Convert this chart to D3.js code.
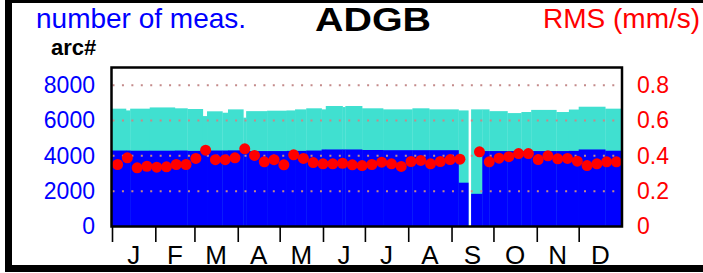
<!DOCTYPE html>
<html>
<head>
<meta charset="utf-8">
<script src="https://cdn.jsdelivr.net/npm/d3@7"></script>
<style>
  body { margin: 0; background: #fff; }
  svg { display: block; font-family: "Liberation Sans", Arial, Helvetica, sans-serif; }
</style>
</head>
<body>
<script>
// month labels and the day of year each month starts on
var months = ["J", "F", "M", "A", "M", "J", "J", "A", "S", "O", "N", "D"];
var monthStart = [0, 31, 59, 90, 120, 151, 181, 212, 243, 273, 304, 334, 365];

// bars come in runs of days: length of run, number of measurements, arc# (null = no data)
var runDays  = [10, 3, 14, 18, 9, 11, 3, 11, 4, 11, 2, 15, 14, 6, 8, 11, 3, 12, 2, 12,
                15, 21, 12, 21, 7, 2, 8, 5, 13, 10, 7, 18, 9, 7, 19, 12];
var measures = [6670, 6570, 6670, 6740, 6690, 6650, 6250, 6520, 6440, 6630, 6160, 6530, 6555, 6570, 6630, 6690, 6630, 6820, 6760, 6820,
                6690, 6630, 6690, 6630, 6570, null, 6630, 6630, 6530, 6420, 6480, 6600, 6480, 6620, 6780, 6670];
var arcs     = [4300, 4300, 4290, 4290, 4300, 4280, 4280, 4300, 4300, 4310, 4290, 4270, 4270, 4280, 4280, 4300, 4360, 4360, 4360, 4360,
                4330, 4320, 4320, 4320, 2480, null, 1850, 4270, 4270, 4270, 4270, 4270, 4270, 4280, 4360, 4290];

// weekly RMS (mm/s), week 37 has no value
var rms = [0.351, 0.389, 0.332, 0.341, 0.336, 0.338, 0.351, 0.351, 0.385, 0.432,
           0.378, 0.378, 0.389, 0.440, 0.402, 0.366, 0.378, 0.349, 0.406, 0.385,
           0.362, 0.355, 0.355, 0.358, 0.349, 0.345, 0.351, 0.364, 0.355, 0.340,
           0.368, 0.374, 0.355, 0.368, 0.379, 0.381, null, 0.423, 0.366, 0.387,
           0.395, 0.413, 0.413, 0.379, 0.400, 0.383, 0.385, 0.370, 0.345, 0.355,
           0.366, 0.366];

var leftTicks = [0, 2000, 4000, 6000, 8000];
var rightTicks = [0, 0.2, 0.4, 0.6, 0.8];

var w = 703, h = 273;

var svg = d3.select("body").append("svg")
    .attr("width", w)
    .attr("height", h);

var x = d3.scaleLinear().domain([0, 365]).range([112, 622]);
var yL = d3.scaleLinear().domain([0, 9000]).range([226.5, 67.5]);
var yR = d3.scaleLinear().domain([0, 0.9]).range([226.5, 67.5]);

// build the runs (start day from cumulative length)
var ends = d3.cumsum(runDays);
var runs = runDays.map(function(d, i){
    return { start: ends[i] - d, end: ends[i], meas: measures[i], arc: arcs[i] };
}).filter(function(d){ return d.meas != null; });

// number of measurements (turquoise)
svg.selectAll(".meas")
    .data(runs)
    .enter()
    .append("rect")
    .attr("class", "meas")
    .attr("x", function(d){ return x(d.start); })
    .attr("width", function(d){ return x(d.end) - x(d.start) + 0.3; })
    .attr("y", function(d){ return yL(d.meas); })
    .attr("height", function(d){ return yL(0) - yL(d.meas); })
    .style("fill", "#40e0d0");

// arc# (blue)
svg.selectAll(".arc")
    .data(runs)
    .enter()
    .append("rect")
    .attr("class", "arc")
    .attr("x", function(d){ return x(d.start); })
    .attr("width", function(d){ return x(d.end) - x(d.start) + 0.3; })
    .attr("y", function(d){ return yL(d.arc); })
    .attr("height", function(d){ return yL(0) - yL(d.arc); })
    .style("fill", "#0000ff");

// dotted grid lines
svg.selectAll(".grid")
    .data(leftTicks.slice(1))
    .enter()
    .append("line")
    .attr("class", "grid")
    .attr("x1", x(0) + 0.5)
    .attr("x2", x(365))
    .attr("y1", function(d){ return yL(d); })
    .attr("y2", function(d){ return yL(d); })
    .style("stroke", "#c48a8a")
    .style("stroke-width", 2)
    .style("stroke-dasharray", "2,7.43");

// weekly RMS dots
svg.selectAll(".rms")
    .data(rms.map(function(v, i){ return { week: i, v: v }; }).filter(function(d){ return d.v != null; }))
    .enter()
    .append("circle")
    .attr("class", "rms")
    .attr("cx", function(d){ return x(d.week * 7 + 4); })
    .attr("cy", function(d){ return yR(d.v); })
    .attr("r", 5.5)
    .style("fill", "#ff0000");

// plot frame
svg.append("rect")
    .attr("x", x(0) - 0.5)
    .attr("y", yL(9000))
    .attr("width", x(365) - x(0) + 0.5)
    .attr("height", yL(0) - yL(9000))
    .style("fill", "none")
    .style("stroke", "#000")
    .style("stroke-width", 2.5);

// left axis
var leftAxis = svg.append("g")
    .attr("transform", "translate(95,0)")
    .call(d3.axisLeft(yL).tickValues(leftTicks).tickSize(0).tickPadding(0).tickFormat(d3.format("d")));
leftAxis.select(".domain").remove();
leftAxis.selectAll("text")
    .style("font-size", "23px")
    .style("font-family", "Liberation Sans, Arial, sans-serif")
    .style("fill", "#0000ff");

// right axis
var rightAxis = svg.append("g")
    .attr("transform", "translate(637,0)")
    .call(d3.axisRight(yR).tickValues(rightTicks).tickSize(0).tickPadding(0)
        .tickFormat(function(d){ return d === 0 ? "0" : d3.format(".1f")(d); }));
rightAxis.select(".domain").remove();
rightAxis.selectAll("text")
    .style("font-size", "23px")
    .style("font-family", "Liberation Sans, Arial, sans-serif")
    .style("fill", "#ff0000");

// month ticks
var xAxis = svg.append("g")
    .attr("transform", "translate(0," + (yL(0) + 0.5) + ")")
    .call(d3.axisBottom(x).tickValues(monthStart.slice(0, 12)).tickSize(15).tickFormat(""));
xAxis.select(".domain").remove();
xAxis.selectAll("line").style("stroke", "#000").style("stroke-width", 1.6);

// month labels, centred in each month (cut by the frame at the bottom)
svg.selectAll(".month")
    .data(months)
    .enter()
    .append("text")
    .attr("class", "month")
    .attr("x", function(d, i){ return x((monthStart[i] + monthStart[i + 1]) / 2); })
    .attr("y", 264)
    .attr("text-anchor", "middle")
    .style("font-size", "26px")
    .text(function(d){ return d; });

// titles
svg.append("text")
    .attr("x", 36).attr("y", 28)
    .style("font-size", "28px")
    .style("fill", "#0000ff")
    .text("number of meas.");

svg.append("text")
    .attr("x", 51).attr("y", 55)
    .style("font-size", "22px")
    .style("font-weight", "bold")
    .text("arc#");

svg.append("text")
    .attr("x", 373).attr("y", 30.5)
    .attr("text-anchor", "middle")
    .attr("textLength", 116)
    .attr("lengthAdjust", "spacingAndGlyphs")
    .style("font-size", "34px")
    .style("font-weight", "bold")
    .text("ADGB");

svg.append("text")
    .attr("x", 543).attr("y", 27.5)
    .style("font-size", "28px")
    .style("fill", "#ff0000")
    .text("RMS (mm/s)");

// outer frame
svg.append("rect")
    .attr("x", 8.5).attr("y", -0.5)
    .attr("width", 800).attr("height", 269)
    .style("fill", "none")
    .style("stroke", "#000")
    .style("stroke-width", 7);
</script>
</body>
</html>
